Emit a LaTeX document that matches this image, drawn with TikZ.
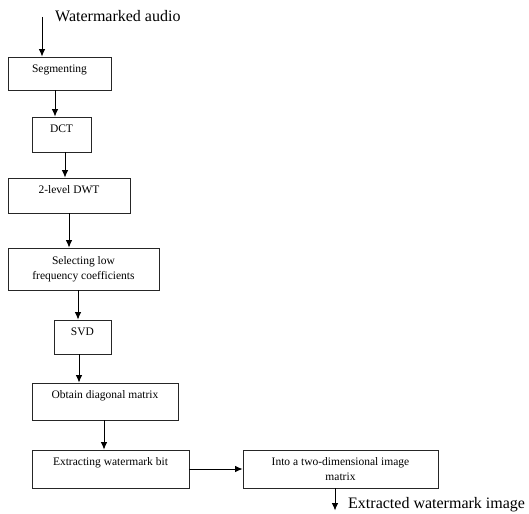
\documentclass[tikz,border=0pt]{standalone}
\usepackage{fontspec}
\setmainfont{Liberation Serif}
\usetikzlibrary{arrows.meta}

\tikzset{
  blk/.style={draw=black!85, line width=0.8pt, inner xsep=0pt, inner ysep=0pt,
    text height=15.5pt, font=\fontsize{11.5}{14.5}\selectfont},
  blktwo/.style={draw=black!85, line width=0.8pt, inner sep=0pt, align=center,
    font=\fontsize{11.5}{14.5}\selectfont},
  lbl/.style={inner sep=0pt, font=\fontsize{16}{18}\selectfont},
  arr/.style={line width=0.9pt, -{Latex[length=7.5pt,width=6.5pt]}}
}

\begin{document}
\begin{tikzpicture}[x=1pt, y=-1pt]
  \useasboundingbox (0,0) rectangle (529,513);
  \node[blk, minimum width=103pt, text depth=17.5pt] (seg) at (59.5,73.5) {Segmenting};
  \node[blk, minimum width=59pt, text depth=19.5pt] (dct) at (61.5,134.5) {DCT};
  \node[blk, minimum width=122pt, text depth=19.5pt] (dwt) at (69,195.5) {2-level DWT};
  \node[blktwo, minimum width=151pt, minimum height=42pt] (sel) at (83.5,269) {Selecting low\\frequency coefficients};
  \node[blk, minimum width=57pt, text depth=18.5pt] (svd) at (82.5,337) {SVD};
  \node[blk, minimum width=146pt, text depth=21.5pt] (diag) at (105,401.5) {Obtain diagonal matrix};
  \node[blk, minimum width=157pt, text depth=22.5pt] (bit) at (110.5,469) {Extracting watermark bit};
  \node[blktwo, minimum width=195pt, minimum height=38pt] (img) at (340.5,469) {Into a two-dimensional image\\matrix};

  \coordinate (in) at (42,17);
  \coordinate (out) at (335,510.5);
  \node[lbl, anchor=base west] (inlbl) at (55,22) {Watermarked audio};
  \node[lbl, anchor=base west] (outlbl) at (348,508.5) {Extracted watermark image};

  \draw[arr] (in) -- (in |- seg.north);
  \draw[arr] ([xshift=-4.5pt]seg.south) -- ([xshift=-4.5pt]seg.south |- dct.north);
  \draw[arr] ([xshift=3.5pt]dct.south) -- ([xshift=3.5pt]dct.south |- dwt.north);
  \draw[arr] (dwt.south) -- (dwt.south |- sel.north);
  \draw[arr] ([xshift=-5.5pt]sel.south) -- ([xshift=-5.5pt]sel.south |- svd.north);
  \draw[arr] ([xshift=-3.5pt]svd.south) -- ([xshift=-3.5pt]svd.south |- diag.north);
  \draw[arr] ([xshift=-1pt]diag.south) -- ([xshift=-1pt]diag.south |- bit.north);
  \draw[arr] (bit.east) -- (img.west);
  \draw[arr] (out |- img.south) -- (out);
\end{tikzpicture}
\end{document}
